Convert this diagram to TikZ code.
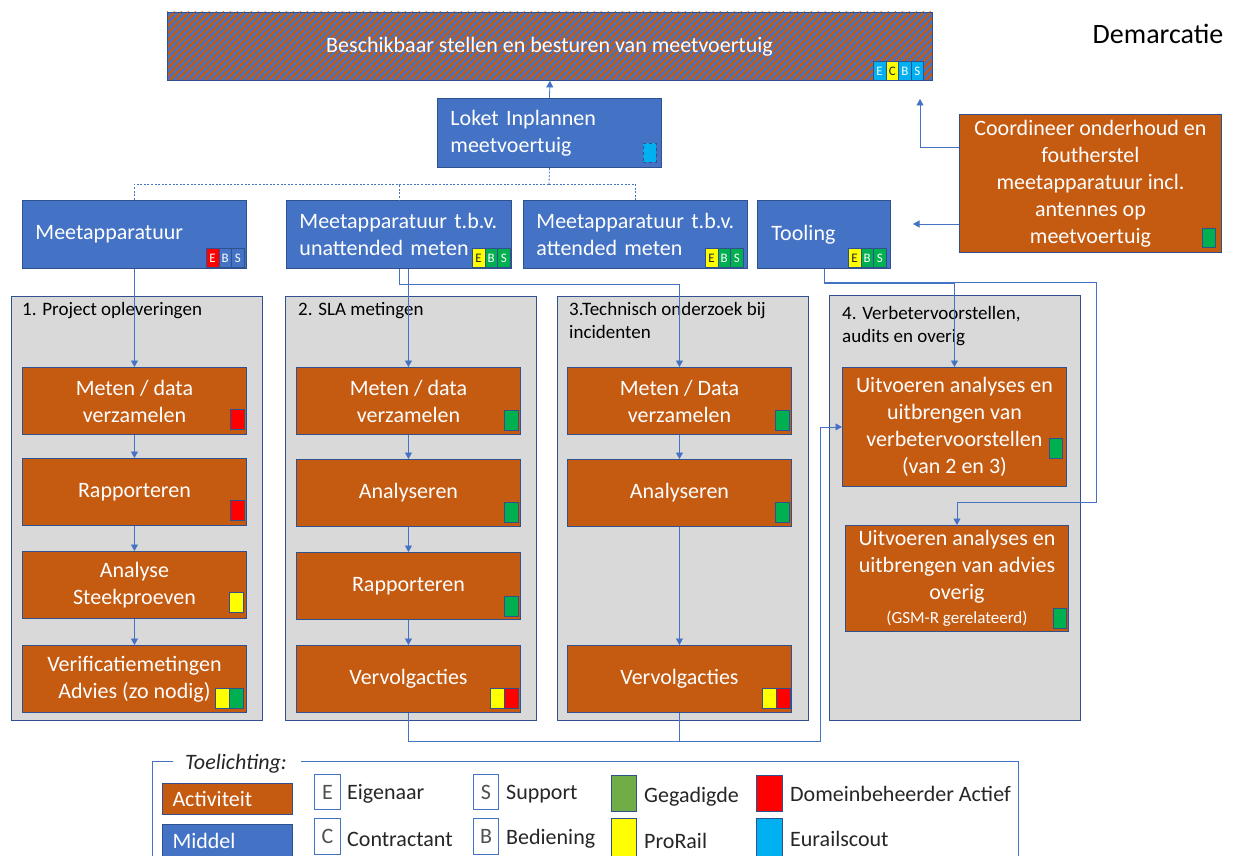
\documentclass[tikz,border=0pt]{standalone}
\usepackage{fontspec}
\setmainfont{Carlito}
\usetikzlibrary{arrows.meta,calc}
\definecolor{blueF}{HTML}{4472C4}
\definecolor{bordc}{HTML}{2F528F}
\definecolor{orgF}{HTML}{C55A11}
\definecolor{grayF}{HTML}{D9D9D9}
\definecolor{lineC}{HTML}{4472C4}
\definecolor{grnC}{HTML}{00B050}
\definecolor{redC}{HTML}{FF0000}
\definecolor{yelC}{HTML}{FFFF00}
\definecolor{cyaC}{HTML}{00B0F0}
\definecolor{lgrn}{HTML}{70AD47}
\definecolor{txtC}{HTML}{262626}
\newcommand\mybf{\fontsize{22}{27}\selectfont}
\newcommand\mysec{\fontsize{19}{23.5}\selectfont}
\newcommand\mycell{\fontsize{13}{15}\selectfont}
\newcommand\myleg{\fontsize{22}{25}\selectfont}
\tikzset{
 box/.style={draw=bordc, line width=0.9pt, inner sep=0pt, anchor=north west},
 bluebox/.style={box, fill=blueF, text=white, font=\mybf, align=left, inner xsep=13pt},
 actbox/.style={box, fill=orgF, text=white, font=\mybf, align=center, minimum width=224pt, minimum height=67pt},
 sectbox/.style={draw=bordc, fill=grayF, line width=1.1pt, anchor=north west, inner sep=0pt, minimum width=251pt, minimum height=424pt},
 stitle/.style={anchor=north west, font=\mysec, align=left, inner sep=0pt, text=black},
 cell/.style={draw=bordc, line width=0.7pt, inner sep=0pt, anchor=north west, minimum width=12.6pt, minimum height=19pt, font=\mycell, text=white},
 swatch/.style={draw=bordc, line width=0.8pt, inner sep=0pt, anchor=north west, minimum width=13.5pt, minimum height=20pt},
 conn/.style={draw=lineC, line width=0.8pt},
 arr/.style={conn, -{Triangle[width=7pt,length=6.5pt]}},
 dsh/.style={draw=lineC, line width=0.8pt, dash pattern=on 2pt off 1.6pt},
 lgbox/.style={draw=lineC, line width=1pt, inner sep=0pt, anchor=north west},
 lgtxt/.style={anchor=west, font=\myleg, text=txtC, inner sep=0pt},
}
\begin{document}
\begin{tikzpicture}[x=1pt,y=-1pt]
\useasboundingbox (0,0) rectangle (1236,856);
\clip (0,0) rectangle (1236,856);
\fill[white] (0,0) rectangle (1236,856);

% ---------- top bar ----------
\node[box, fill=blueF, minimum width=765pt, minimum height=68pt] (top) at (167,12) {};
\begin{scope}
\clip (top.south west) rectangle (top.north east);
\foreach \i in {-75,-68,...,935} \draw[orgF, line width=2.3pt] (\i,80) -- ++(68,-68);
\end{scope}
\draw[bordc, line width=0.9pt] (top.south west) rectangle (top.north east);
\node[font=\mybf, text=white] (toptext) at (549.5,47) {Beschikbaar stellen en besturen van meetvoertuig};
\node[cell, fill=cyaC] (tbe) at (873,61) {E};
\node[cell, fill=yelC, text=txtC] (tbc) at (885.6,61) {C};
\node[cell, fill=cyaC] (tbb) at (898.2,61) {B};
\node[cell, fill=cyaC] (tbs) at (910.8,61) {S};

\node[font=\fontsize{28}{33}\selectfont, text=black] (dem) at (1158,34) {Demarcatie};

% ---------- loket ----------
\node[bluebox, text width=198pt, minimum width=224pt, minimum height=69pt] (loket) at (437,98) {Loket Inplannen\\meetvoertuig};
\node[swatch, fill=cyaC, dashed, minimum width=13pt, minimum height=19pt] (lkb) at (643,143) {};

% ---------- blue row ----------
\node[bluebox, text width=198pt, minimum width=224pt, minimum height=68pt] (ma) at (22,200) {\raisebox{-3pt}{Meetapparatuur}};
\node[cell, fill=redC] (mae) at (206,248) {E};
\node[cell, fill=blueF] (mab) at (218.6,248) {B};
\node[cell, fill=blueF] (mas) at (231.2,248) {S};

\node[bluebox, text width=199pt, minimum width=225pt, minimum height=68pt] (mu) at (286,200) {Meetapparatuur t.b.v.\\unattended meten};
\node[cell, fill=yelC, text=txtC] (mue) at (472,248) {E};
\node[cell, fill=grnC] (mub) at (484.6,248) {B};
\node[cell, fill=grnC] (mus) at (497.2,248) {S};

\node[bluebox, text width=198pt, minimum width=224pt, minimum height=68pt] (mt) at (523,200) {Meetapparatuur t.b.v.\\attended meten};
\node[cell, fill=yelC, text=txtC] (mte) at (705,248) {E};
\node[cell, fill=grnC] (mtb) at (717.6,248) {B};
\node[cell, fill=grnC] (mts) at (730.2,248) {S};

\node[bluebox, text width=105pt, inner xsep=14pt, minimum width=133pt, minimum height=68pt] (tool) at (757,200) {\raisebox{-1pt}{Tooling}};
\node[cell, fill=yelC, text=txtC] (toe) at (848,248) {E};
\node[cell, fill=grnC] (tob) at (860.6,248) {B};
\node[cell, fill=grnC] (tos) at (873.2,248) {S};

\node[actbox, minimum width=262pt, minimum height=138pt] (coord) at (959,114) {Coordineer onderhoud en\\foutherstel\\meetapparatuur incl.\\antennes op\\meetvoertuig};
\node[swatch, fill=grnC, minimum width=13pt, minimum height=19pt] (cob) at (1202,228) {};

% ---------- sections ----------
\node[sectbox] (s1) at (11,296) {};
\node[sectbox] (s2) at (285,296) {};
\node[sectbox] (s3) at (557,296) {};
\node[sectbox, minimum height=425pt] (s4) at (829,295) {};
\node[stitle] (t1) at (22,302) {1. Project opleveringen};
\node[stitle] (t2) at (298,302) {2. SLA metingen};
\node[stitle] (t3) at (569,302) {3.Technisch onderzoek bij\\incidenten};
\node[stitle] (t4) at (842,306) {4. Verbetervoorstellen,\\audits en overig};

% section 1
\node[actbox] (a11) at (22,367) {Meten / data\\verzamelen};
\node[swatch, fill=redC] (b11) at (230,409) {};
\node[actbox] (a12) at (22,458) {Rapporteren};
\node[swatch, fill=redC] (b12) at (230,500) {};
\node[actbox] (a13) at (22,551) {Analyse\\Steekproeven};
\node[swatch, fill=yelC] (b13) at (229,592) {};
\node[actbox] (a14) at (22,645) {Verificatiemetingen\\Advies (zo nodig)};
\node[swatch, fill=yelC] (b14a) at (215,688) {};
\node[swatch, fill=grnC] (b14b) at (229,688) {};

% section 2
\node[actbox] (a21) at (296,367) {Meten / data\\verzamelen};
\node[swatch, fill=grnC] (b21) at (504,410) {};
\node[actbox] (a22) at (296,459) {Analyseren};
\node[swatch, fill=grnC] (b22) at (504,502) {};
\node[actbox] (a23) at (296,552) {Rapporteren};
\node[swatch, fill=grnC] (b23) at (504,596) {};
\node[actbox] (a24) at (296,645) {Vervolgacties};
\node[swatch, fill=yelC] (b24a) at (490,688) {};
\node[swatch, fill=redC] (b24b) at (504,688) {};

% section 3
\node[actbox] (a31) at (567,367) {Meten / Data\\verzamelen};
\node[swatch, fill=grnC] (b31) at (775,410) {};
\node[actbox] (a32) at (567,459) {Analyseren};
\node[swatch, fill=grnC] (b32) at (775,502) {};
\node[actbox] (a33) at (567,645) {Vervolgacties};
\node[swatch, fill=yelC] (b33a) at (762,688) {};
\node[swatch, fill=redC] (b33b) at (776,688) {};

% section 4
\node[actbox, minimum width=224pt, minimum height=119pt] (a41) at (842,367) {Uitvoeren analyses en\\uitbrengen van\\verbetervoorstellen\\(van 2 en 3)};
\node[swatch, fill=grnC, minimum width=13pt] (b41) at (1049,438) {};
\node[actbox, minimum width=223pt, minimum height=106pt] (a42) at (845,525) {Uitvoeren analyses en\\uitbrengen van advies\\overig\\[-3pt]{\fontsize{17}{20}\selectfont (GSM-R gerelateerd)}};
\node[swatch, fill=grnC, minimum width=13pt] (b42) at (1053,608) {};

% ---------- connectors ----------
\draw[arr] (loket.north) -- (top.south);
\coordinate (dj) at (549,184);
\draw[dsh] (loket.south) -- (dj);
\draw[dsh] (dj) -| (ma.north);
\draw[dsh] (dj) -| (mu.north);
\draw[dsh] (dj) -| (mt.north);

\draw[arr] (ma.south) -- (a11.north);
\draw[arr] (a11.south) -- (a12.north);
\draw[arr] (a12.south) -- (a13.north);
\draw[arr] (a13.south) -- (a14.north);

\draw[arr] (mu.south -| a21.north) -- (a21.north);
\draw[arr] (a21.south) -- (a22.north);
\draw[arr] (a22.south) -- (a23.north);
\draw[arr] (a23.south) -- (a24.north);

\draw[arr] (mu.south) -- ++(0,15) -| (a31.north);
\draw[arr] (a31.south) -- (a32.north);
\draw[arr] (a32.south) -- (a33.north);

\coordinate (tc1) at (1096,282);
\coordinate (tc2) at (1096,502);
\draw[arr] (tool.south) -- ++(0,14) -| (a41.north);
\draw[arr] (tool.south) |- (tc1) -- (tc2) -| (a42.north);

\coordinate (cy1) at (920,147);
\coordinate (cu) at (920,99);
\coordinate (cy2) at (913,224);
\draw[arr] (coord.west |- cy1) -- (cy1) -- (cu);
\draw[arr] (coord.west |- cy2) -- (cy2);

\coordinate (br) at (820,741);
\draw[arr] (a24.south) |- (br) |- (a41.west);
\draw[conn] (a33.south) -- (a33.south |- br);

% ---------- legend ----------
\draw[lineC, line width=1pt] (173,761) -- (152,761) -- (152,860);
\draw[lineC, line width=1pt] (301,761) -- (1018,761) -- (1018,860);
\node[font=\itshape\myleg, text=txtC, inner sep=0pt] (ltit) at (236,764) {Toelichting:};
\node[lgbox, draw=bordc, fill=orgF, minimum width=129pt, minimum height=31pt, text width=110pt, inner xsep=10pt, align=left, font=\myleg, text=white] (lact) at (162,783) {Activiteit};
\node[lgbox, draw=bordc, fill=blueF, minimum width=129pt, minimum height=33pt, text width=110pt, inner xsep=10pt, align=left, font=\myleg, text=white] (lmid) at (162,824) {Middel};
\node[lgbox, minimum width=26pt, minimum height=35pt, font=\myleg, text=txtC!80] (le) at (314,774) {E};
\node[lgbox, minimum width=26pt, minimum height=36pt, font=\myleg, text=txtC!80] (lc) at (314,818) {C};
\node[lgbox, minimum width=25pt, minimum height=35pt, font=\myleg, text=txtC!80] (ls) at (473,774) {S};
\node[lgbox, minimum width=25pt, minimum height=36pt, font=\myleg, text=txtC!80] (lb) at (473,818) {B};
\node[lgtxt] (lte) at (347,794) {Eigenaar};
\node[lgtxt] (ltc) at (347,839) {Contractant};
\node[lgtxt] (lts) at (506,794) {Support};
\node[lgtxt] (ltb) at (506,839) {Bediening};
\node[lgbox, draw=bordc, fill=lgrn, minimum width=25pt, minimum height=36pt] (lg) at (611,775) {};
\node[lgbox, draw=bordc, fill=yelC, minimum width=25pt, minimum height=38pt] (ly) at (611,818) {};
\node[lgbox, draw=bordc, fill=redC, minimum width=26pt, minimum height=36pt] (lr) at (756,775) {};
\node[lgbox, draw=bordc, fill=cyaC, minimum width=26pt, minimum height=38pt] (lcy) at (756,818) {};
\node[lgtxt] (ltg) at (644,797) {Gegadigde};
\node[lgtxt] (lty) at (644,841) {ProRail};
\node[lgtxt] (ltr) at (790,794) {Domeinbeheerder Actief};
\node[lgtxt] (ltcy) at (790,839) {Eurailscout};
\end{tikzpicture}
\end{document}
